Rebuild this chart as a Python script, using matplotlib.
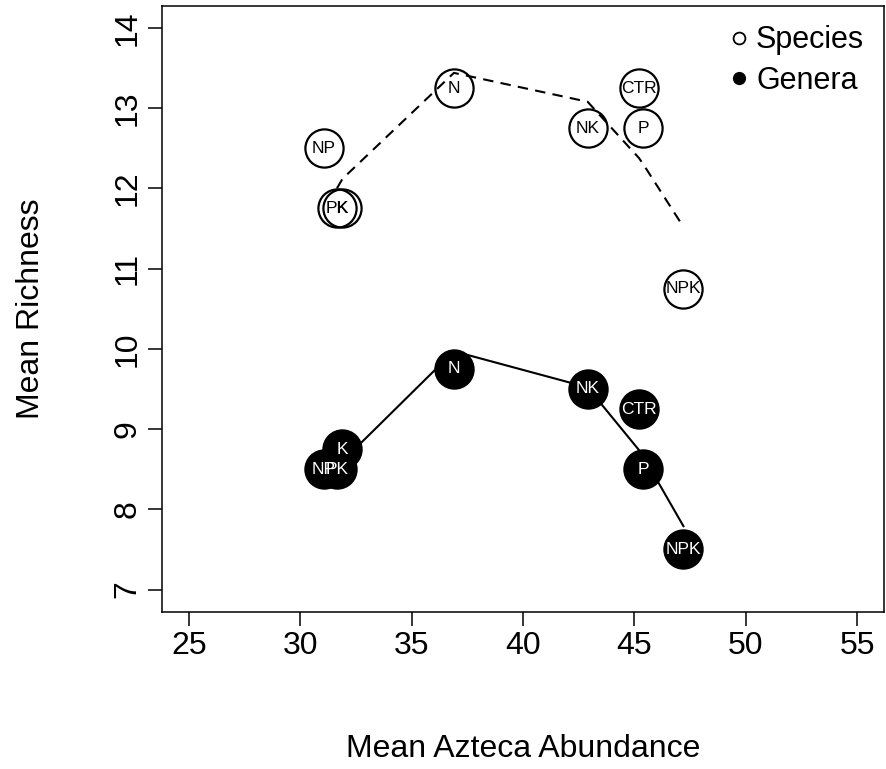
import matplotlib.pyplot as plt
from matplotlib.lines import Line2D

plt.rcParams['font.family'] = ['Liberation Sans', 'DejaVu Sans']

# treatment means
treatments = ["CTR", "N", "P", "K", "NP", "NK", "PK", "NPK"]
azteca = [45.2, 36.9, 45.4, 31.9, 31.05, 42.9, 31.65, 47.2]
species = [13.25, 13.25, 12.75, 11.75, 12.5, 12.75, 11.75, 10.75]
genera = [9.25, 9.75, 8.5, 8.75, 8.5, 9.5, 8.5, 7.5]

# fitted curves (sorted by abundance)
fit_x = [31.65, 31.9, 36.9, 42.9, 45.2, 45.4, 47.2]
species_fit = [12.00, 12.12, 13.44, 13.08, 12.38, 12.30, 11.52]
genera_fit = [8.46, 8.60, 9.97, 9.52, 8.74, 8.66, 7.79]

fs = 23
fig = plt.figure(figsize=(8.87, 7.69), dpi=100)
ax = fig.add_axes([162/887, 1 - 612/769, (884 - 162)/887, (612 - 5.5)/769])

ax.plot(fit_x, species_fit, color='black', lw=1.5, ls=(0, (5, 3.5)), zorder=1)
ax.plot(fit_x, genera_fit, color='black', lw=1.5, zorder=1)

ax.plot(azteca, species, 'o', ms=27.5, mfc='none', mec='black', mew=1.6, zorder=2)
ax.plot(azteca, genera, 'o', ms=27.5, mfc='black', mec='black', mew=1.6, zorder=2)

for lab, x, s, g in zip(treatments, azteca, species, genera):
    ax.text(x, s, lab, ha='center', va='center', fontsize=12.5, color='black', zorder=3)
    ax.text(x, g, lab, ha='center', va='center', fontsize=12.5, color='white', zorder=3)

ax.set_xlim(23.8, 56.2)
ax.set_ylim(6.72, 14.28)
ax.set_xticks([25, 30, 35, 40, 45, 50, 55])
ax.set_yticks([7, 8, 9, 10, 11, 12, 13, 14])
ax.tick_params(direction='out', length=10, width=1.1, labelsize=fs, pad=4)
for lbl in ax.get_yticklabels():
    lbl.set_rotation(90)
    lbl.set_va('center')
for sp in ax.spines.values():
    sp.set_linewidth(1.1)

ax.set_xlabel("Mean Azteca Abundance", fontsize=fs, labelpad=52)
ax.set_ylabel("Mean Richness", fontsize=fs, labelpad=48)

handles = [
    Line2D([], [], ls='none', marker='o', ms=8.5, mfc='none', mec='black', mew=1.3),
    Line2D([], [], ls='none', marker='o', ms=8.5, mfc='black', mec='black'),
]
ax.legend(handles, ["Species", "Genera"], loc='upper right', frameon=False,
          fontsize=22, handlelength=0.5, handletextpad=0.3, labelspacing=0.35,
          borderaxespad=0.25)

fig.savefig("out.png", dpi=100)
